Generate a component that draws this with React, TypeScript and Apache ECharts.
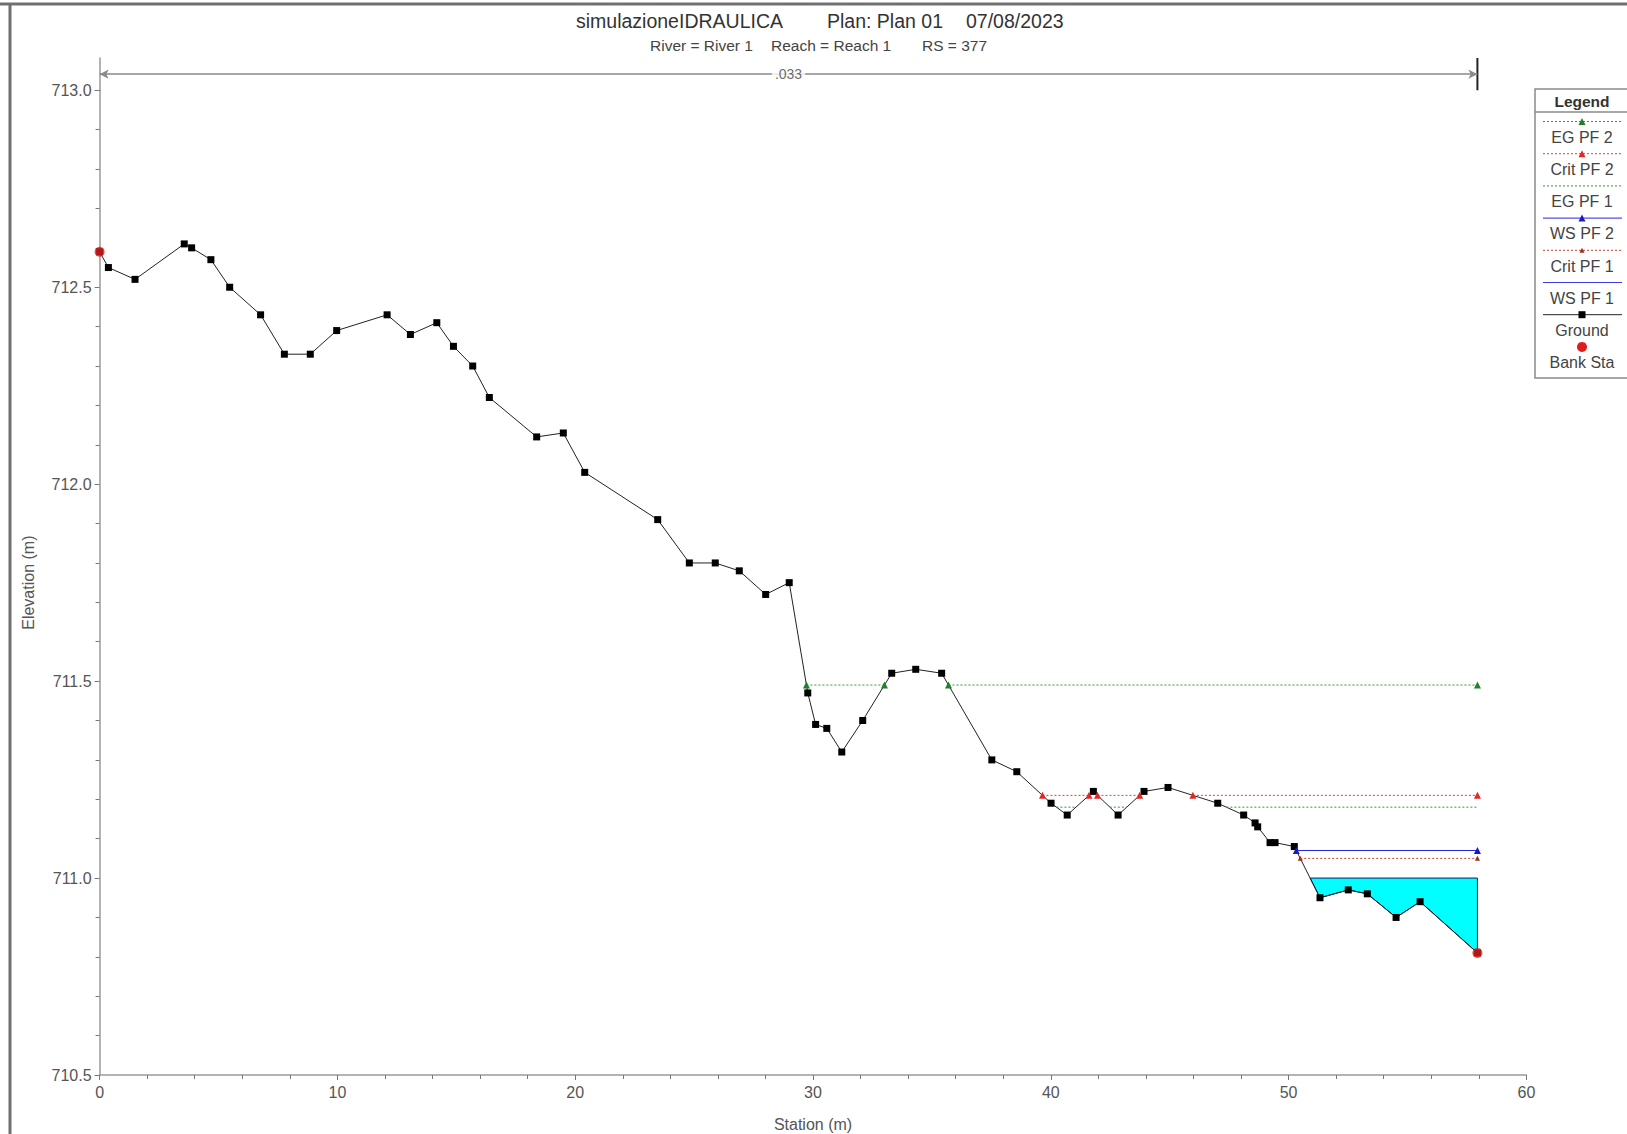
import React, { useEffect, useRef } from "react";
import * as echarts from "echarts";

// ---- data ----
const groundStations = [
  0, 0.37, 1.49, 3.56, 3.87, 4.68, 5.47, 6.77, 7.77, 8.86, 9.97, 12.09, 13.07, 14.18, 14.88,
  15.69, 16.39, 18.38, 19.5, 20.4, 23.47, 24.8, 25.89, 26.9, 28.01, 29.0, 29.78, 30.11, 30.58,
  31.21, 32.09, 33.31, 34.32, 35.41, 37.52, 38.57, 40.01, 40.69, 41.79, 42.83, 43.92, 44.93,
  47.02, 48.11, 48.59, 48.7, 49.22, 49.43, 50.24, 51.32, 52.51, 53.31, 54.52, 55.53, 57.94,
];
const groundElevations = [
  712.59, 712.55, 712.52, 712.61, 712.6, 712.57, 712.5, 712.43, 712.33, 712.33, 712.39, 712.43,
  712.38, 712.41, 712.35, 712.3, 712.22, 712.12, 712.13, 712.03, 711.91, 711.8, 711.8, 711.78,
  711.72, 711.75, 711.47, 711.39, 711.38, 711.32, 711.4, 711.52, 711.53, 711.52, 711.3, 711.27,
  711.19, 711.16, 711.22, 711.16, 711.22, 711.23, 711.19, 711.16, 711.14, 711.13, 711.09, 711.09,
  711.08, 710.95, 710.97, 710.96, 710.9, 710.94, 710.81,
];
const bankStations = [0, 57.94];
const bankElevations = [712.59, 710.81];
const levelNames = ["EG PF 2", "Crit PF 2", "EG PF 1", "WS PF 2", "Crit PF 1", "WS PF 1"];
const levelValues = [711.49, 711.21, 711.18, 711.07, 711.05, 711.0];
const manningLabels = [".033"];
const manningStations = [0, 57.94];
const xMin = 0, xMax = 60, xInterval = 10;
const yMin = 710.5, yMax = 713.0, yInterval = 0.5;

const titleParts = ["simulazioneIDRAULICA", "Plan: Plan 01", "07/08/2023"];
const subtitleParts = ["River = River 1", "Reach = Reach 1", "RS = 377"];
const legendTitle = "Legend";
const legendLabels = ["EG PF 2", "Crit PF 2", "EG PF 1", "WS PF 2", "Crit PF 1", "WS PF 1", "Ground", "Bank Sta"];

// ---- styles ----
const FONT = "'Liberation Sans', Arial, sans-serif";
const levelStyles: Record<string, any> = {
  "EG PF 2": { color: "#2f9a2f", mark: "#23802a", dash: [2, 2], symbol: "triangle", size: 7 },
  "Crit PF 2": { color: "#e83a3a", mark: "#e02828", dash: [2, 2], symbol: "triangle", size: 7 },
  "EG PF 1": { color: "#2f9a2f", mark: "#23802a", dash: [2, 2], symbol: "none", size: 0 },
  "WS PF 2": { color: "#2424e0", mark: "#1a1ac8", dash: "solid", symbol: "triangle", size: 7 },
  "Crit PF 1": { color: "#c44030", mark: "#9a3020", dash: [2, 2], symbol: "triangle", size: 5 },
  "WS PF 1": { color: "#3a3ae0", mark: "#3a3ae0", dash: "solid", symbol: "none", size: 0 },
};

function groundAt(x: number) {
  for (let i = 0; i < groundStations.length - 1; i++) {
    const x0 = groundStations[i], x1 = groundStations[i + 1];
    if (x >= x0 && x <= x1) {
      const y0 = groundElevations[i], y1 = groundElevations[i + 1];
      return y0 + ((x - x0) / (x1 - x0)) * (y1 - y0);
    }
  }
  return groundElevations[groundElevations.length - 1];
}

function wetSegments(level: number) {
  const segs: number[][] = [];
  let cur: number[] | null = null;
  for (let i = 0; i < groundStations.length - 1; i++) {
    const x0 = groundStations[i], y0 = groundElevations[i];
    const x1 = groundStations[i + 1], y1 = groundElevations[i + 1];
    const b0 = y0 < level, b1 = y1 < level;
    if (b0 && b1) {
      if (!cur) cur = [x0, x1];
      else cur[1] = x1;
    } else if (b0 && !b1) {
      const xc = x0 + ((level - y0) / (y1 - y0)) * (x1 - x0);
      if (!cur) cur = [x0, xc];
      else cur[1] = xc;
      segs.push(cur);
      cur = null;
    } else if (!b0 && b1) {
      const xc = x0 + ((level - y0) / (y1 - y0)) * (x1 - x0);
      cur = [xc, x1];
    }
  }
  if (cur) segs.push(cur);
  return segs;
}

function fillPolygons(level: number) {
  return wetSegments(level).map(([a, b]) => {
    const pts: number[][] = [[a, level], [b, level], [b, groundAt(b)]];
    for (let i = groundStations.length - 1; i >= 0; i--) {
      const x = groundStations[i];
      if (x > a && x < b) pts.push([x, groundElevations[i]]);
    }
    pts.push([a, groundAt(a)]);
    return pts;
  });
}

export default function App() {
  const ref = useRef<HTMLDivElement>(null);

  useEffect(() => {
    const chart = echarts.init(ref.current!, null, { renderer: "svg" });

    const gridLeft = 99.6, gridWidth = 1426.8, gridTop = 90.3, gridHeight = 984.7;
    const axisColor = "#9a9a9a";
    const labelColor = "#555";

    const series: any[] = [];

    // WS PF 1 fill
    const ws1Index = levelNames.indexOf("WS PF 1");
    const polys = fillPolygons(levelValues[ws1Index]);
    series.push({
      type: "custom",
      name: "WS PF 1 fill",
      xAxisIndex: 0,
      yAxisIndex: 0,
      z: 1,
      silent: true,
      data: polys.map((p) => p[0]),
      renderItem: (params: any, api: any) => ({
        type: "polygon",
        shape: { points: polys[params.dataIndex].map((p) => api.coord(p)) },
        style: { fill: "#00ffff", stroke: "#17176e", lineWidth: 1 },
      }),
    });

    // Ground
    series.push({
      type: "line",
      name: "Ground",
      xAxisIndex: 0,
      yAxisIndex: 0,
      z: 3,
      data: groundStations.map((x, i) => [x, groundElevations[i]]),
      symbol: "rect",
      symbolSize: 7,
      showAllSymbol: true,
      itemStyle: { color: "#000" },
      lineStyle: { color: "#222", width: 1 },
    });

    // Water / energy levels
    levelNames.forEach((name, li) => {
      if (name === "WS PF 1") return;
      const st = levelStyles[name];
      wetSegments(levelValues[li]).forEach((seg) => {
        series.push({
          type: "line",
          name,
          xAxisIndex: 0,
          yAxisIndex: 0,
          z: 4,
          data: seg.map((x) => [x, levelValues[li]]),
          symbol: st.symbol,
          symbolSize: st.size,
          showAllSymbol: true,
          itemStyle: { color: st.mark },
          lineStyle: { color: st.color, width: 1, type: st.dash },
        });
      });
    });

    // Bank stations
    series.push({
      type: "scatter",
      name: "Bank Sta",
      xAxisIndex: 0,
      yAxisIndex: 0,
      z: 5,
      data: bankStations.map((x, i) => [x, bankElevations[i]]),
      symbol: "circle",
      symbolSize: 10,
      itemStyle: { color: "#e21b1b" },
    });

    // Manning's n annotation (top strip)
    series.push({
      type: "line",
      xAxisIndex: 1,
      yAxisIndex: 1,
      z: 3,
      silent: true,
      data: [[manningStations[1], 0], [manningStations[1], 1]],
      symbol: "none",
      lineStyle: { color: "#222", width: 2 },
      markLine: {
        silent: true,
        symbol: ["arrow", "arrow"],
        symbolSize: [7, 9],
        lineStyle: { color: "#8a8a8a", width: 1.5, type: "solid" },
        label: { show: false },
        data: [[{ coord: [manningStations[0], 0.5] }, { coord: [manningStations[1], 0.5] }]],
      },
    });
    series.push({
      type: "scatter",
      xAxisIndex: 1,
      yAxisIndex: 1,
      z: 6,
      silent: true,
      data: [[(manningStations[0] + manningStations[1]) / 2, 0.5]],
      symbolSize: 1,
      itemStyle: { color: "rgba(0,0,0,0)" },
      label: {
        show: true,
        position: "inside",
        formatter: manningLabels[0],
        backgroundColor: "#fff",
        padding: [1, 3],
        color: "#444",
        fontSize: 14,
        fontFamily: FONT,
      },
    });

    // Legend as graphic
    const lg: any[] = [];
    const lx0 = 1535, lx1 = 1622, lcx = 1582;
    lg.push({ type: "rect", shape: { x: lx0, y: 89, width: 100, height: 289 }, style: { fill: "#fff", stroke: "#8a8a8a", lineWidth: 1.5 }, z: 10 });
    lg.push({ type: "text", x: lcx, y: 101, style: { text: legendTitle, font: `bold 15.5px ${FONT}`, fill: "#333", align: "center", verticalAlign: "middle" }, z: 11 });
    lg.push({ type: "line", shape: { x1: lx0, y1: 112, x2: 1627, y2: 112 }, style: { stroke: "#8a8a8a", lineWidth: 1.5 }, z: 11 });
    legendLabels.forEach((lab, i) => {
      const ly = 121.5 + 32.2 * i;
      const ty = 137.2 + 32.2 * i;
      const st = levelStyles[lab];
      if (st) {
        lg.push({ type: "line", shape: { x1: lx0 + 8, y1: ly, x2: lx1, y2: ly }, style: { stroke: st.color, lineWidth: 1, lineDash: st.dash === "solid" ? null : st.dash }, z: 11 });
        if (st.symbol === "triangle") {
          const h = st.size;
          lg.push({ type: "polygon", shape: { points: [[lcx, ly - h / 2], [lcx - h / 2, ly + h / 2], [lcx + h / 2, ly + h / 2]] }, style: { fill: st.mark }, z: 12 });
        }
      } else if (lab === "Ground") {
        lg.push({ type: "line", shape: { x1: lx0 + 8, y1: ly, x2: lx1, y2: ly }, style: { stroke: "#222", lineWidth: 1 }, z: 11 });
        lg.push({ type: "rect", shape: { x: lcx - 3.5, y: ly - 3.5, width: 7, height: 7 }, style: { fill: "#000" }, z: 12 });
      } else {
        lg.push({ type: "circle", shape: { cx: lcx, cy: ly, r: 5 }, style: { fill: "#e21b1b" }, z: 12 });
      }
      lg.push({ type: "text", x: lcx, y: ty, style: { text: lab, font: `16px ${FONT}`, fill: "#444", align: "center", verticalAlign: "middle" }, z: 12 });
    });

    const titleX = [576, 827, 966];
    const subX = [650, 771, 922];

    chart.setOption({
      animation: false,
      backgroundColor: "#fff",
      grid: [
        { left: gridLeft, top: gridTop, width: gridWidth, height: gridHeight, outerBoundsMode: "none", containLabel: false },
        { left: gridLeft, top: 58, width: gridWidth, height: gridTop - 58, outerBoundsMode: "none", containLabel: false },
      ],
      xAxis: [
        {
          type: "value",
          gridIndex: 0,
          min: xMin,
          max: xMax,
          interval: xInterval,
          axisLine: { show: true, onZero: false, lineStyle: { color: axisColor, width: 1.5 } },
          axisTick: { show: true, length: 5, lineStyle: { color: "#777" } },
          minorTick: { show: true, splitNumber: 5, length: 4, lineStyle: { color: "#777" } },
          axisLabel: { color: labelColor, fontSize: 16, margin: 9, fontFamily: FONT },
          splitLine: { show: false },
          name: "Station (m)",
          nameLocation: "middle",
          nameGap: 41,
          nameTextStyle: { color: labelColor, fontSize: 16, fontFamily: FONT },
        },
        { type: "value", gridIndex: 1, min: xMin, max: xMax, show: false },
      ],
      yAxis: [
        {
          type: "value",
          gridIndex: 0,
          min: yMin,
          max: yMax,
          interval: yInterval,
          axisLine: { show: true, onZero: false, lineStyle: { color: axisColor, width: 1.5 } },
          axisTick: { show: true, length: 5, lineStyle: { color: "#777" } },
          minorTick: { show: true, splitNumber: 5, length: 4, lineStyle: { color: "#777" } },
          axisLabel: { color: labelColor, fontSize: 16, margin: 8, fontFamily: FONT, formatter: (v: number) => v.toFixed(1) },
          splitLine: { show: false },
          name: "Elevation (m)",
          nameLocation: "middle",
          nameGap: 63,
          nameTextStyle: { color: labelColor, fontSize: 16, fontFamily: FONT },
        },
        {
          type: "value",
          gridIndex: 1,
          min: 0,
          max: 1,
          axisLine: { show: true, onZero: false, lineStyle: { color: axisColor, width: 1.5 } },
          axisTick: { show: false },
          axisLabel: { show: false },
          splitLine: { show: false },
        },
      ],
      series,
      graphic: [
        { type: "line", shape: { x1: 0, y1: 4, x2: 1627, y2: 4 }, style: { stroke: "#707070", lineWidth: 3 }, z: 20 },
        { type: "line", shape: { x1: 10, y1: 4, x2: 10, y2: 1134 }, style: { stroke: "#707070", lineWidth: 3 }, z: 20 },
        ...titleParts.map((t, i) => ({ type: "text", x: titleX[i], y: 20.5, style: { text: t, font: `19.5px ${FONT}`, fill: "#333", align: "left", verticalAlign: "middle" }, z: 20 })),
        ...subtitleParts.map((t, i) => ({ type: "text", x: subX[i], y: 45, style: { text: t, font: `15.5px ${FONT}`, fill: "#444", align: "left", verticalAlign: "middle" }, z: 20 })),
        ...lg,
      ],
    });

    return () => chart.dispose();
  }, []);

  return <div ref={ref} style={{ position: "fixed", left: 0, top: 0, width: 1627, height: 1134, background: "#fff" }} />;
}
